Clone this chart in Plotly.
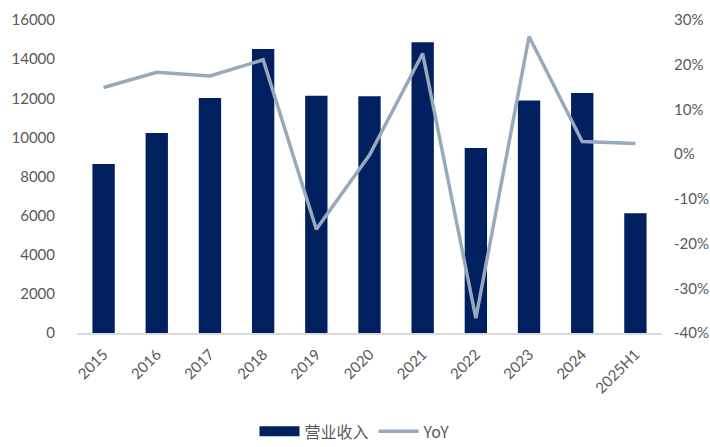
import plotly.graph_objects as go

categories = ["2015", "2016", "2017", "2018", "2019", "2020", "2021", "2022", "2023", "2024", "2025H1"]
revenue = [8640, 10220, 12010, 14520, 12130, 12100, 14860, 9460, 11880, 12270, 6120]
yoy = [0.149, 0.183, 0.175, 0.211, -0.168, -0.002, 0.225, -0.367, 0.263, 0.028, 0.024]

left_ticks = [0, 2000, 4000, 6000, 8000, 10000, 12000, 14000, 16000]
right_ticks = [-0.4, -0.3, -0.2, -0.1, 0.0, 0.1, 0.2, 0.3]
right_labels = ["-40%", "-30%", "-20%", "-10%", "0%", "10%", "20%", "30%"]

font_fam = "Lato, 'Noto Sans CJK SC', sans-serif"
gray = "#595959"
navy = "#002060"

fig = go.Figure()
fig.add_trace(go.Bar(x=categories, y=revenue, name="营业收入", marker_color=navy,
                     marker_line_width=0, showlegend=False))
# legend stand-in for the bar series (wide navy swatch)
fig.add_trace(go.Scatter(x=[None], y=[None], name="营业收入", mode="lines",
                         line=dict(color=navy, width=11)))
fig.add_trace(go.Scatter(x=categories, y=yoy, name="YoY", yaxis="y2", mode="lines",
                         line=dict(color="#97A9BB", width=3.5)))

fig.update_layout(
    width=710, height=447,
    margin=dict(l=77, r=48, t=20, b=114),
    plot_bgcolor="white", paper_bgcolor="white",
    font=dict(family=font_fam, size=15, color=gray),
    bargap=0.58,
    showlegend=True,
    legend=dict(orientation="h", x=0.5, xanchor="center", xref="container",
                y=0.035, yanchor="middle", yref="container",
                font=dict(size=16, color=gray, family="'Noto Sans CJK SC', Lato, sans-serif"),
                traceorder="normal", itemwidth=40),
    xaxis=dict(type="category", tickangle=-45, showline=True, linecolor="#d9d9d9",
               linewidth=1.5, showgrid=False, ticks="outside", ticklen=5,
               tickcolor="rgba(0,0,0,0)", automargin=False,
               tickfont=dict(size=15, color=gray)),
    yaxis=dict(range=[0, 16000], tickvals=left_ticks, ticktext=[str(v) for v in left_ticks],
               showgrid=False, zeroline=False, showline=False, ticks="outside", automargin=False,
               ticklen=18, tickcolor="rgba(0,0,0,0)", tickfont=dict(size=15, color=gray)),
    yaxis2=dict(range=[-0.4, 0.3], tickvals=right_ticks, ticktext=right_labels,
                overlaying="y", side="right", showgrid=False, zeroline=False, showline=False,
                ticks="outside", ticklen=8, tickcolor="rgba(0,0,0,0)", automargin=False,
                tickfont=dict(size=15, color=gray)),
)

fig.write_html("out.html")
